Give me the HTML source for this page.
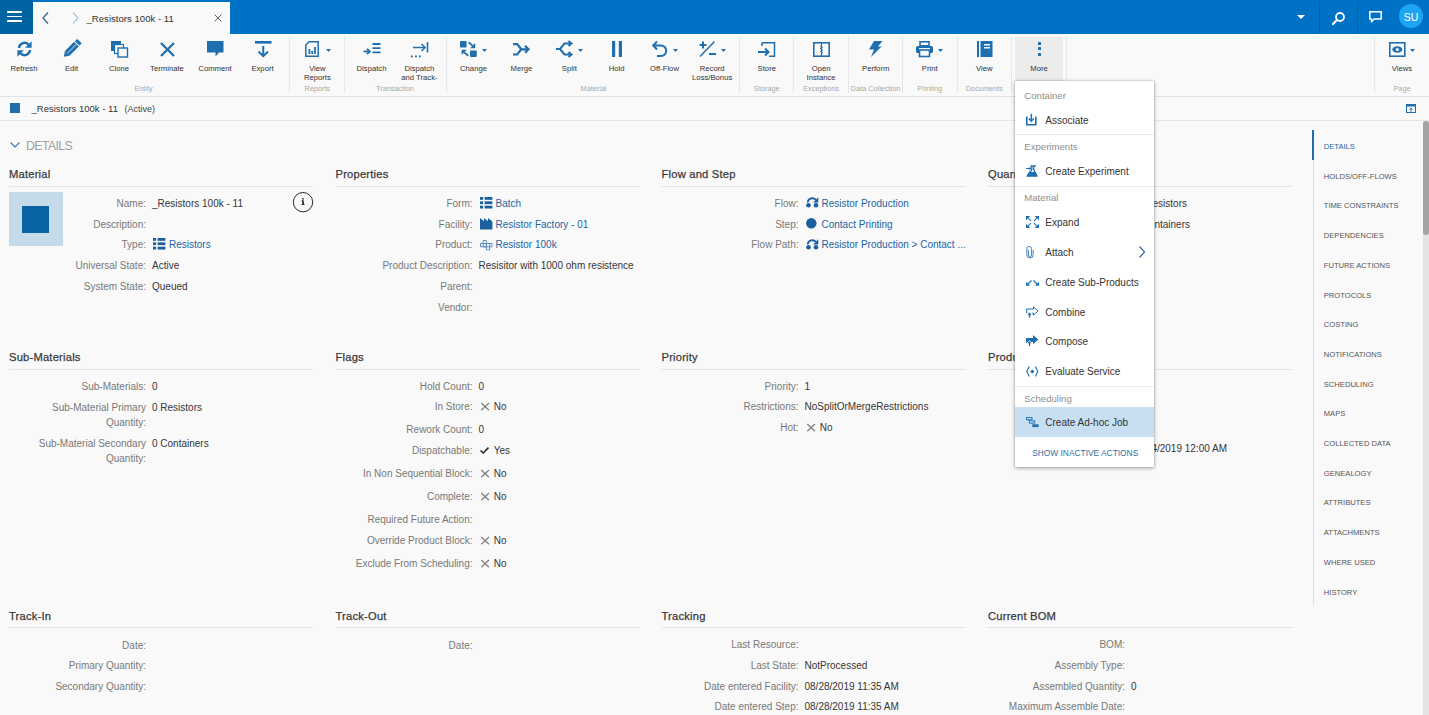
<!DOCTYPE html><html><head><meta charset="utf-8"><style>
html,body{margin:0;padding:0;}
body{width:1429px;height:715px;overflow:hidden;position:relative;background:#f9f9f9;font-family:"Liberation Sans", sans-serif;}
.t{position:absolute;white-space:nowrap;line-height:1;}
svg{overflow:visible}
</style></head><body>
<div style="position:absolute;left:0px;top:0px;width:1429px;height:34px;background:#0072c6;"></div>
<div style="position:absolute;left:0px;top:0px;width:33px;height:34px;background:#0064a2;"></div>
<div style="position:absolute;left:7px;top:11.2px;width:15px;height:1.6px;background:#ffffff;border-radius:0.8px;"></div>
<div style="position:absolute;left:7px;top:15.7px;width:15px;height:1.6px;background:#ffffff;border-radius:0.8px;"></div>
<div style="position:absolute;left:7px;top:20.2px;width:15px;height:1.6px;background:#ffffff;border-radius:0.8px;"></div>
<div style="position:absolute;left:33px;top:2px;width:197px;height:32px;background:#f9f9f9;"></div>
<svg style="position:absolute;left:42px;top:12px" width="7" height="12" viewBox="0 0 7 12"><path d="M6 0.5 L1 6 L6 11.5" fill="none" stroke="#2f5f8f" stroke-width="1.2"/></svg>
<svg style="position:absolute;left:72px;top:12px" width="7" height="12" viewBox="0 0 7 12"><path d="M1 0.5 L6 6 L1 11.5" fill="none" stroke="#a9c6e0" stroke-width="1.2"/></svg>
<div class="t" style="top:13.53px;font-size:9.6px;color:#333;left:86.5px;">_Resistors 100k - 11</div>
<svg style="position:absolute;left:214px;top:14px" width="8" height="8" viewBox="0 0 8 8"><path d="M0.5 0.5 L7.5 7.5 M7.5 0.5 L0.5 7.5" fill="none" stroke="#555" stroke-width="0.95"/></svg>
<svg style="position:absolute;left:1297px;top:15px" width="8" height="4" viewBox="0 0 8 4"><path d="M0 0 L8 0 L4 4 Z" fill="#fff"/></svg>
<div style="position:absolute;left:1318.5px;top:2px;width:0;height:31px;border-left:1px dotted #0a4f86"></div>
<div style="position:absolute;left:1357px;top:2px;width:0;height:31px;border-left:1px dotted #0a4f86"></div>
<svg style="position:absolute;left:1332px;top:12px" width="13" height="12" viewBox="0 0 13 12"><circle cx="8" cy="5" r="4" fill="none" stroke="#fff" stroke-width="1.8"/><path d="M5.2 7.8 L1 12" stroke="#fff" stroke-width="2.2" stroke-linecap="round"/></svg>
<svg style="position:absolute;left:1369px;top:11px" width="13" height="12" viewBox="0 0 13 12"><path d="M0.8 0.8 H12.2 V8 H5 L2.5 10.8 V8 H0.8 Z" fill="none" stroke="#fff" stroke-width="1.5" stroke-linejoin="round"/></svg>
<div style="position:absolute;left:1399px;top:4px;width:24px;height:24px;border-radius:12px;background:#1ea5f2"></div>
<div class="t" style="top:12.19px;font-size:10.5px;color:#fff;left:1399.00px;width:24px;text-align:center;">SU</div>
<div style="position:absolute;left:0px;top:34px;width:1429px;height:62px;background:#f9f9f9;"></div>
<div style="position:absolute;left:0px;top:96px;width:1429px;height:1px;background:#e3e3e3;"></div>
<div style="position:absolute;left:289px;top:37px;width:1px;height:56px;background:#e6e6e6;"></div>
<div style="position:absolute;left:344px;top:37px;width:1px;height:56px;background:#e6e6e6;"></div>
<div style="position:absolute;left:446px;top:37px;width:1px;height:56px;background:#e6e6e6;"></div>
<div style="position:absolute;left:739px;top:37px;width:1px;height:56px;background:#e6e6e6;"></div>
<div style="position:absolute;left:793px;top:37px;width:1px;height:56px;background:#e6e6e6;"></div>
<div style="position:absolute;left:848px;top:37px;width:1px;height:56px;background:#e6e6e6;"></div>
<div style="position:absolute;left:902px;top:37px;width:1px;height:56px;background:#e6e6e6;"></div>
<div style="position:absolute;left:957px;top:37px;width:1px;height:56px;background:#e6e6e6;"></div>
<div style="position:absolute;left:1011px;top:37px;width:1px;height:56px;background:#e6e6e6;"></div>
<div style="position:absolute;left:1066px;top:37px;width:1px;height:56px;background:#e6e6e6;"></div>
<div style="position:absolute;left:1374px;top:37px;width:1px;height:56px;background:#e6e6e6;"></div>
<div style="position:absolute;left:1015px;top:37px;width:48px;height:44px;background:#ececec;"></div>
<div class="t" style="top:64.89px;font-size:7.7px;color:#333;left:-6.00px;width:60px;text-align:center;">Refresh</div>
<div class="t" style="top:64.89px;font-size:7.7px;color:#333;left:41.50px;width:60px;text-align:center;">Edit</div>
<div class="t" style="top:64.89px;font-size:7.7px;color:#333;left:89.00px;width:60px;text-align:center;">Clone</div>
<div class="t" style="top:64.89px;font-size:7.7px;color:#333;left:137.00px;width:60px;text-align:center;">Terminate</div>
<div class="t" style="top:64.89px;font-size:7.7px;color:#333;left:185.00px;width:60px;text-align:center;">Comment</div>
<div class="t" style="top:64.89px;font-size:7.7px;color:#333;left:232.50px;width:60px;text-align:center;">Export</div>
<div class="t" style="top:85.21px;font-size:7.3px;color:#a8a8a8;left:103.50px;width:80px;text-align:center;">Entity</div>
<div class="t" style="top:64.89px;font-size:7.7px;color:#333;left:287.40px;width:60px;text-align:center;">View</div>
<div class="t" style="top:73.69px;font-size:7.7px;color:#333;left:287.40px;width:60px;text-align:center;">Reports</div>
<div class="t" style="top:85.21px;font-size:7.3px;color:#a8a8a8;left:277.40px;width:80px;text-align:center;">Reports</div>
<div class="t" style="top:64.89px;font-size:7.7px;color:#333;left:341.50px;width:60px;text-align:center;">Dispatch</div>
<div class="t" style="top:64.89px;font-size:7.7px;color:#333;left:389.40px;width:60px;text-align:center;">Dispatch</div>
<div class="t" style="top:73.69px;font-size:7.7px;color:#333;left:389.40px;width:60px;text-align:center;">and Track-</div>
<div class="t" style="top:85.21px;font-size:7.3px;color:#a8a8a8;left:355.00px;width:80px;text-align:center;">Transaction</div>
<div class="t" style="top:64.89px;font-size:7.7px;color:#333;left:443.50px;width:60px;text-align:center;">Change</div>
<div class="t" style="top:64.89px;font-size:7.7px;color:#333;left:491.40px;width:60px;text-align:center;">Merge</div>
<div class="t" style="top:64.89px;font-size:7.7px;color:#333;left:539.30px;width:60px;text-align:center;">Split</div>
<div class="t" style="top:64.89px;font-size:7.7px;color:#333;left:586.60px;width:60px;text-align:center;">Hold</div>
<div class="t" style="top:64.89px;font-size:7.7px;color:#333;left:634.50px;width:60px;text-align:center;">Off-Flow</div>
<div class="t" style="top:64.89px;font-size:7.7px;color:#333;left:682.20px;width:60px;text-align:center;">Record</div>
<div class="t" style="top:73.69px;font-size:7.7px;color:#333;left:682.20px;width:60px;text-align:center;">Loss/Bonus</div>
<div class="t" style="top:85.21px;font-size:7.3px;color:#a8a8a8;left:553.60px;width:80px;text-align:center;">Material</div>
<div class="t" style="top:64.89px;font-size:7.7px;color:#333;left:736.80px;width:60px;text-align:center;">Store</div>
<div class="t" style="top:85.21px;font-size:7.3px;color:#a8a8a8;left:726.80px;width:80px;text-align:center;">Storage</div>
<div class="t" style="top:64.89px;font-size:7.7px;color:#333;left:791.10px;width:60px;text-align:center;">Open</div>
<div class="t" style="top:73.69px;font-size:7.7px;color:#333;left:791.10px;width:60px;text-align:center;">Instance</div>
<div class="t" style="top:85.21px;font-size:7.3px;color:#a8a8a8;left:781.10px;width:80px;text-align:center;">Exceptions</div>
<div class="t" style="top:64.89px;font-size:7.7px;color:#333;left:845.70px;width:60px;text-align:center;">Perform</div>
<div class="t" style="top:85.21px;font-size:7.3px;color:#a8a8a8;left:835.60px;width:80px;text-align:center;">Data Collection</div>
<div class="t" style="top:64.89px;font-size:7.7px;color:#333;left:899.70px;width:60px;text-align:center;">Print</div>
<div class="t" style="top:85.21px;font-size:7.3px;color:#a8a8a8;left:889.70px;width:80px;text-align:center;">Printing</div>
<div class="t" style="top:64.89px;font-size:7.7px;color:#333;left:954.30px;width:60px;text-align:center;">View</div>
<div class="t" style="top:85.21px;font-size:7.3px;color:#a8a8a8;left:944.30px;width:80px;text-align:center;">Documents</div>
<div class="t" style="top:64.89px;font-size:7.7px;color:#333;left:1009.00px;width:60px;text-align:center;">More</div>
<div class="t" style="top:64.89px;font-size:7.7px;color:#333;left:1372.00px;width:60px;text-align:center;">Views</div>
<div class="t" style="top:85.21px;font-size:7.3px;color:#a8a8a8;left:1362.00px;width:80px;text-align:center;">Page</div>
<svg style="position:absolute;left:16.5px;top:40.8px" width="15" height="16" viewBox="0 0 15 16"><path d="M2 7 A5.6 5.6 0 0 1 11.6 3.6" fill="none" stroke="#1f6fae" stroke-width="2.4"/><path d="M14.6 0.3 V6.8 H8.1 Z" fill="#1f6fae"/><path d="M13 9 A5.6 5.6 0 0 1 3.4 12.4" fill="none" stroke="#1f6fae" stroke-width="2.4"/><path d="M0.4 15.7 V9.2 H6.9 Z" fill="#1f6fae"/></svg>
<svg style="position:absolute;left:63px;top:41px" width="17" height="16" viewBox="0 0 17 16"><g transform="translate(8.6 8) scale(1.12) rotate(-45) translate(-8.5 -8)"><rect x="3" y="5.1" width="11.6" height="5.8" fill="#1f6fae"/><path d="M3 5.1 L-1.3 8 L3 10.9 Z" fill="#1f6fae"/><rect x="15.5" y="5.1" width="3" height="5.8" rx="0.8" fill="#1f6fae"/><path d="M3.5 8 H14" stroke="#f9f9f9" stroke-width="0.7"/></g></svg>
<svg style="position:absolute;left:111px;top:41px" width="17" height="16" viewBox="0 0 17 16"><rect x="0" y="0" width="10" height="10" fill="#1f6fae"/><rect x="3.5" y="3.5" width="9" height="9" fill="#f9f9f9" stroke="#1f6fae" stroke-width="1.2"/><rect x="7" y="7" width="9.5" height="9" fill="#f9f9f9" stroke="#1f6fae" stroke-width="1.4"/></svg>
<svg style="position:absolute;left:159.5px;top:41.5px" width="15" height="15" viewBox="0 0 15 15"><path d="M1 1 L14 14 M14 1 L1 14" stroke="#1f6fae" stroke-width="2.3"/></svg>
<svg style="position:absolute;left:206.5px;top:41px" width="17" height="16" viewBox="0 0 17 16"><path d="M0 0 H16.5 V11.6 H12 L8.5 15.6 V11.6 H0 Z" fill="#1f6fae"/></svg>
<svg style="position:absolute;left:254.5px;top:41px" width="17" height="16" viewBox="0 0 17 16"><rect x="0" y="0" width="16.5" height="2.6" fill="#1f6fae"/><path d="M8.25 5 V15" stroke="#1f6fae" stroke-width="2"/><path d="M3.5 10.5 L8.25 15.2 L13 10.5" fill="none" stroke="#1f6fae" stroke-width="2"/></svg>
<svg style="position:absolute;left:305px;top:41px" width="14" height="16" viewBox="0 0 14 16"><path d="M4 0.8 H13.2 V15.2 H0.8 V4 Z" fill="none" stroke="#1f6fae" stroke-width="1.5"/><rect x="3.5" y="8" width="1.8" height="5" fill="#1f6fae"/><rect x="6.3" y="10" width="1.8" height="3" fill="#1f6fae"/><rect x="9.1" y="6" width="1.8" height="7" fill="#1f6fae"/></svg>
<svg style="position:absolute;left:325.5px;top:48.6px" width="5" height="3" viewBox="0 0 5 3"><path d="M0 0 H5 L2.5 3 Z" fill="#1f6fae"/></svg>
<svg style="position:absolute;left:362.5px;top:43px" width="18" height="12" viewBox="0 0 18 12"><path d="M0.5 8.5 H6" stroke="#1f6fae" stroke-width="1.8"/><path d="M4 5.8 L6.8 8.5 L4 11.2" fill="none" stroke="#1f6fae" stroke-width="1.8"/><path d="M9.5 1 H17.5 M9.5 5.2 H17.5 M9.5 9.4 H17.5" stroke="#1f6fae" stroke-width="1.8"/></svg>
<svg style="position:absolute;left:410.5px;top:41.5px" width="18" height="16" viewBox="0 0 18 16"><path d="M2 5.5 H14" stroke="#1f6fae" stroke-width="1.5"/><path d="M10.5 2 L14 5.5 L10.5 9" fill="none" stroke="#1f6fae" stroke-width="1.5"/><path d="M16.5 0 V10.5" stroke="#1f6fae" stroke-width="1.6"/><rect x="0" y="13.5" width="1.8" height="1.8" fill="#1f6fae"/><rect x="4" y="13.5" width="1.8" height="1.8" fill="#1f6fae"/><rect x="8" y="13.5" width="1.8" height="1.8" fill="#1f6fae"/></svg>
<svg style="position:absolute;left:460px;top:41px" width="17" height="16" viewBox="0 0 17 16"><rect x="0" y="0" width="6.6" height="6.6" rx="0.9" fill="#1f6fae"/><rect x="10" y="9.4" width="6.8" height="6.6" rx="0.9" fill="#1f6fae"/><path d="M8.6 1.2 L12.5 4.6" stroke="#1f6fae" stroke-width="1.9"/><path d="M15.2 2 V7.2 H10 Z" fill="#1f6fae"/><path d="M8.2 14.8 L4.3 11.4" stroke="#1f6fae" stroke-width="1.9"/><path d="M1.6 14 V8.8 H6.8 Z" fill="#1f6fae"/></svg>
<svg style="position:absolute;left:482.3px;top:48.6px" width="5" height="3" viewBox="0 0 5 3"><path d="M0 0 H5 L2.5 3 Z" fill="#1f6fae"/></svg>
<svg style="position:absolute;left:513px;top:42.8px" width="17" height="13" viewBox="0 0 17 13"><path d="M0 1.1 H4.2 L8.3 6.3 H15 M0 11.5 H4.2 L8.3 6.3" fill="none" stroke="#1f6fae" stroke-width="2.2"/><path d="M12 2.9 L15.5 6.3 L12 9.7" fill="none" stroke="#1f6fae" stroke-width="2.2"/></svg>
<svg style="position:absolute;left:555.5px;top:41px" width="17" height="16" viewBox="0 0 17 16"><path d="M0 8 H4 L8.5 2.5 H15 M4 8 L8.5 13.5 H15" fill="none" stroke="#1f6fae" stroke-width="2"/><path d="M12.5 0 L15.5 2.5 L12.5 5 M12.5 11 L15.5 13.5 L12.5 16" fill="none" stroke="#1f6fae" stroke-width="2"/></svg>
<svg style="position:absolute;left:578px;top:48.6px" width="5" height="3" viewBox="0 0 5 3"><path d="M0 0 H5 L2.5 3 Z" fill="#1f6fae"/></svg>
<svg style="position:absolute;left:611.8px;top:41px" width="11" height="16" viewBox="0 0 11 16"><rect x="0" y="0" width="3.2" height="16" fill="#1f6fae"/><rect x="6.8" y="0" width="3.2" height="16" fill="#1f6fae"/></svg>
<svg style="position:absolute;left:651.5px;top:41px" width="16" height="16" viewBox="0 0 16 16"><path d="M1.5 4.5 H9 A5.2 5.2 0 0 1 9 15 H5" fill="none" stroke="#1f6fae" stroke-width="2"/><path d="M5 0.5 L1.2 4.5 L5 8.5" fill="none" stroke="#1f6fae" stroke-width="2"/></svg>
<svg style="position:absolute;left:673.3px;top:48.6px" width="5" height="3" viewBox="0 0 5 3"><path d="M0 0 H5 L2.5 3 Z" fill="#1f6fae"/></svg>
<svg style="position:absolute;left:698.5px;top:41px" width="18" height="16" viewBox="0 0 18 16"><path d="M4 0.5 V7.5 M0.5 4 H7.5" stroke="#1f6fae" stroke-width="2"/><path d="M1 15.5 L15.5 0.5" stroke="#1f6fae" stroke-width="1.5"/><path d="M10 13 H17" stroke="#1f6fae" stroke-width="2"/></svg>
<svg style="position:absolute;left:721.2px;top:48.6px" width="5" height="3" viewBox="0 0 5 3"><path d="M0 0 H5 L2.5 3 Z" fill="#1f6fae"/></svg>
<svg style="position:absolute;left:758px;top:41.5px" width="18" height="15" viewBox="0 0 18 15"><path d="M4 0.8 H16.5 V14.2 H11" fill="none" stroke="#1f6fae" stroke-width="1.5"/><path d="M0 10 H10" stroke="#1f6fae" stroke-width="2"/><path d="M7 6.5 L10.5 10 L7 13.5" fill="none" stroke="#1f6fae" stroke-width="2"/><path d="M4 0.8 V4" stroke="#1f6fae" stroke-width="1.5"/></svg>
<svg style="position:absolute;left:813px;top:41.5px" width="17" height="15" viewBox="0 0 17 15"><rect x="0.8" y="0.8" width="15.4" height="13.4" fill="none" stroke="#1f6fae" stroke-width="1.6"/><path d="M8.5 1 V14" stroke="#1f6fae" stroke-width="1.2"/><path d="M7 4 L9.5 5.5 L7 7 M10 8 L7.5 9.5 L10 11" fill="none" stroke="#1f6fae" stroke-width="1"/></svg>
<svg style="position:absolute;left:868px;top:41px" width="15" height="16" viewBox="0 0 15 16"><path d="M6 0 H14.5 L10 5.5 H13.5 L3 16 L6 8.5 H1 Z" fill="#1f6fae"/></svg>
<svg style="position:absolute;left:916px;top:41px" width="17" height="16" viewBox="0 0 17 16"><rect x="4" y="0.8" width="9" height="4" fill="none" stroke="#1f6fae" stroke-width="1.6"/><rect x="0" y="5" width="17" height="7" rx="1.5" fill="#1f6fae"/><rect x="3.5" y="9" width="10" height="6.5" fill="#f9f9f9" stroke="#1f6fae" stroke-width="1.6"/><rect x="3" y="7" width="11" height="1.2" fill="#f9f9f9"/></svg>
<svg style="position:absolute;left:938.2px;top:48.6px" width="5" height="3" viewBox="0 0 5 3"><path d="M0 0 H5 L2.5 3 Z" fill="#1f6fae"/></svg>
<svg style="position:absolute;left:976.5px;top:41px" width="16" height="16" viewBox="0 0 16 16"><rect x="0" y="0" width="2" height="16" fill="#1f6fae"/><rect x="3.5" y="0" width="12" height="16" fill="#1f6fae"/><rect x="7" y="3" width="6" height="1.5" fill="#f9f9f9"/><rect x="7" y="6" width="6" height="1.5" fill="#f9f9f9"/></svg>
<div style="position:absolute;left:1037.6px;top:41.5px;width:3px;height:3px;background:#1f6fae;border-radius:0.6px;"></div>
<div style="position:absolute;left:1037.6px;top:47.3px;width:3px;height:3px;background:#1f6fae;border-radius:0.6px;"></div>
<div style="position:absolute;left:1037.6px;top:53.1px;width:3px;height:3px;background:#1f6fae;border-radius:0.6px;"></div>
<svg style="position:absolute;left:1388.5px;top:41.5px" width="17" height="15" viewBox="0 0 17 15"><rect x="0.8" y="0.8" width="15" height="13.4" fill="none" stroke="#1f6fae" stroke-width="1.6"/><ellipse cx="8.3" cy="7.5" rx="5" ry="3.2" fill="#1f6fae"/><circle cx="8.3" cy="7.5" r="1.6" fill="#f9f9f9"/></svg>
<svg style="position:absolute;left:1410px;top:48.6px" width="5" height="3" viewBox="0 0 5 3"><path d="M0 0 H5 L2.5 3 Z" fill="#1f6fae"/></svg>
<div style="position:absolute;left:10px;top:103px;width:10px;height:10px;background:#1f6fae;"></div>
<div class="t" style="top:104.41px;font-size:9.5px;color:#333;left:31.5px;">_Resistors 100k - 11</div>
<div class="t" style="top:104.82px;font-size:9.0px;color:#444;left:124.5px;">(Active)</div>
<div style="position:absolute;left:0px;top:120px;width:1310px;height:1px;background:#e6e6e6;"></div>
<div style="position:absolute;left:1310px;top:120px;width:119px;height:1px;background:#e6e6e6;"></div>
<svg style="position:absolute;left:1406px;top:104px" width="10" height="9" viewBox="0 0 10 9"><rect x="0.5" y="0.5" width="9" height="8" fill="none" stroke="#1f6fae" stroke-width="1"/><rect x="0.5" y="0.5" width="9" height="2" fill="#1f6fae"/><path d="M5 4 V8 M3.3 5.6 L5 4 L6.7 5.6" fill="none" stroke="#1f6fae" stroke-width="0.9"/></svg>
<svg style="position:absolute;left:10px;top:142px" width="10" height="6" viewBox="0 0 10 6"><path d="M0.5 0.5 L5 5 L9.5 0.5" fill="none" stroke="#3a78b0" stroke-width="1.1"/></svg>
<div class="t" style="top:139.71px;font-size:12.3px;color:#a0a0a0;letter-spacing:-0.6px;left:26.0px;">DETAILS</div>
<div class="t" style="top:169.12px;font-size:11.2px;color:#3a3a3a;letter-spacing:0.2px;left:9px;-webkit-text-stroke:0.25px #3a3a3a;">Material</div>
<div style="position:absolute;left:9px;top:186px;width:304px;height:1px;background:#e4e4e4;"></div>
<div style="position:absolute;left:9px;top:192px;width:54px;height:54px;background:#c6dbea;"></div>
<div style="position:absolute;left:22px;top:206px;width:27px;height:27px;background:#0a64a4;"></div>
<div class="t" style="top:198.80px;font-size:10px;color:#787878;right:1283px;text-align:right;">Name:</div>
<div class="t" style="top:198.80px;font-size:10px;color:#363636;left:152px;">_Resistors 100k - 11</div>
<svg style="position:absolute;left:293px;top:192.2px" width="20" height="21" viewBox="0 0 20 21"><circle cx="10" cy="10.2" r="9.7" fill="none" stroke="#2a2a2a" stroke-width="1"/><rect x="9.2" y="8.4" width="1.6" height="4" fill="#1a1a1a"/><rect x="8.5" y="8.4" width="1.3" height="0.7" fill="#1a1a1a"/><circle cx="10" cy="6.8" r="0.85" fill="#1a1a1a"/><rect x="8.5" y="12.2" width="3" height="0.8" fill="#1a1a1a"/></svg>
<div class="t" style="top:219.80px;font-size:10px;color:#787878;right:1283px;text-align:right;">Description:</div>
<div class="t" style="top:240.30px;font-size:10px;color:#787878;right:1283px;text-align:right;">Type:</div>
<svg style="position:absolute;left:153.3px;top:238.3px" width="13" height="13" viewBox="0 0 13 13"><rect x="0" y="0.00" width="3.1" height="2.8" fill="#1b5f9e"/><rect x="4.6" y="0.00" width="7.8" height="2.8" fill="#1b5f9e"/><rect x="0" y="4.35" width="3.1" height="2.8" fill="#1b5f9e"/><rect x="4.6" y="4.35" width="7.8" height="2.8" fill="#1b5f9e"/><rect x="0" y="8.70" width="3.1" height="2.8" fill="#1b5f9e"/><rect x="4.6" y="8.70" width="7.8" height="2.8" fill="#1b5f9e"/></svg>
<div class="t" style="top:240.30px;font-size:10px;color:#1d64a0;left:169px;">Resistors</div>
<div class="t" style="top:261.00px;font-size:10px;color:#787878;right:1283px;text-align:right;">Universal State:</div>
<div class="t" style="top:261.00px;font-size:10px;color:#363636;left:152px;">Active</div>
<div class="t" style="top:281.80px;font-size:10px;color:#787878;right:1283px;text-align:right;">System State:</div>
<div class="t" style="top:281.80px;font-size:10px;color:#363636;left:152px;">Queued</div>
<div class="t" style="top:169.12px;font-size:11.2px;color:#3a3a3a;letter-spacing:0.2px;left:335.5px;-webkit-text-stroke:0.25px #3a3a3a;">Properties</div>
<div style="position:absolute;left:335.5px;top:186px;width:304px;height:1px;background:#e4e4e4;"></div>
<div class="t" style="top:198.80px;font-size:10px;color:#787878;right:956.5px;text-align:right;">Form:</div>
<svg style="position:absolute;left:479.8px;top:196.8px" width="13" height="13" viewBox="0 0 13 13"><rect x="0" y="0.00" width="3.1" height="2.8" fill="#1b5f9e"/><rect x="4.6" y="0.00" width="7.8" height="2.8" fill="#1b5f9e"/><rect x="0" y="4.35" width="3.1" height="2.8" fill="#1b5f9e"/><rect x="4.6" y="4.35" width="7.8" height="2.8" fill="#1b5f9e"/><rect x="0" y="8.70" width="3.1" height="2.8" fill="#1b5f9e"/><rect x="4.6" y="8.70" width="7.8" height="2.8" fill="#1b5f9e"/></svg>
<div class="t" style="top:198.80px;font-size:10px;color:#1d64a0;left:495.5px;">Batch</div>
<div class="t" style="top:219.60px;font-size:10px;color:#787878;right:956.5px;text-align:right;">Facility:</div>
<svg style="position:absolute;left:479.8px;top:218.20000000000002px" width="13" height="12" viewBox="0 0 13 12"><path d="M0 11.4 V0 L4 3.2 V0 L8 3.2 V0 L12.4 3.5 V11.4 Z" fill="#1b5f9e"/></svg>
<div class="t" style="top:219.60px;font-size:10px;color:#1d64a0;left:495.5px;">Resistor Factory - 01</div>
<div class="t" style="top:240.00px;font-size:10px;color:#787878;right:956.5px;text-align:right;">Product:</div>
<svg style="position:absolute;left:479.8px;top:239.79999999999998px" width="13" height="11" viewBox="0 0 13 11"><path d="M0.5 3.5 H12 V6.8 H0.5 Z" fill="none" stroke="#4f86bd" stroke-width="0.9"/><path d="M3.2 0.5 H6.4 V6.8 H3.2 Z M6.4 3.5 H9.6 V9.8 H6.4 Z" fill="none" stroke="#4f86bd" stroke-width="0.9"/></svg>
<div class="t" style="top:240.00px;font-size:10px;color:#1d64a0;left:495.5px;">Resistor 100k</div>
<div class="t" style="top:260.80px;font-size:10px;color:#787878;right:956.5px;text-align:right;">Product Description:</div>
<div class="t" style="top:260.80px;font-size:10px;color:#363636;left:478.5px;">Resisitor with 1000 ohm resistence</div>
<div class="t" style="top:281.80px;font-size:10px;color:#787878;right:956.5px;text-align:right;">Parent:</div>
<div class="t" style="top:302.60px;font-size:10px;color:#787878;right:956.5px;text-align:right;">Vendor:</div>
<div class="t" style="top:169.12px;font-size:11.2px;color:#3a3a3a;letter-spacing:0.2px;left:661.5px;-webkit-text-stroke:0.25px #3a3a3a;">Flow and Step</div>
<div style="position:absolute;left:661.5px;top:186px;width:304px;height:1px;background:#e4e4e4;"></div>
<div class="t" style="top:198.80px;font-size:10px;color:#787878;right:630.5px;text-align:right;">Flow:</div>
<svg style="position:absolute;left:805.8px;top:197.4px" width="13" height="11" viewBox="0 0 13 11"><circle cx="2.5" cy="8.2" r="2.3" fill="#1b5f9e"/><circle cx="10" cy="8.2" r="2.3" fill="#1b5f9e"/><path d="M1.5 5.4 C2.5 1.2 7 0 10 2.8" fill="none" stroke="#1b5f9e" stroke-width="1.8"/><path d="M12.3 0.2 V5.4 H7.1 Z" fill="#1b5f9e"/></svg>
<div class="t" style="top:198.80px;font-size:10px;color:#1d64a0;left:821.5px;">Resistor Production</div>
<div class="t" style="top:219.60px;font-size:10px;color:#787878;right:630.5px;text-align:right;">Step:</div>
<svg style="position:absolute;left:805.8px;top:218.20000000000002px" width="12" height="12" viewBox="0 0 12 12"><circle cx="5.3" cy="5.2" r="5.2" fill="#1b5f9e"/></svg>
<div class="t" style="top:219.60px;font-size:10px;color:#1d64a0;left:821.5px;">Contact Printing</div>
<div class="t" style="top:240.30px;font-size:10px;color:#787878;right:630.5px;text-align:right;">Flow Path:</div>
<svg style="position:absolute;left:805.8px;top:238.9px" width="13" height="11" viewBox="0 0 13 11"><circle cx="2.5" cy="8.2" r="2.3" fill="#1b5f9e"/><circle cx="10" cy="8.2" r="2.3" fill="#1b5f9e"/><path d="M1.5 5.4 C2.5 1.2 7 0 10 2.8" fill="none" stroke="#1b5f9e" stroke-width="1.8"/><path d="M12.3 0.2 V5.4 H7.1 Z" fill="#1b5f9e"/></svg>
<div class="t" style="top:240.30px;font-size:10px;color:#1d64a0;left:821.5px;">Resistor Production &gt; Contact ...</div>
<div class="t" style="top:169.12px;font-size:11.2px;color:#3a3a3a;letter-spacing:0.2px;left:988px;-webkit-text-stroke:0.25px #3a3a3a;">Quantities</div>
<div style="position:absolute;left:988px;top:186px;width:304px;height:1px;background:#e4e4e4;"></div>
<div class="t" style="top:198.80px;font-size:10px;color:#787878;right:304px;text-align:right;">Primary Quantity:</div>
<div class="t" style="top:219.60px;font-size:10px;color:#787878;right:304px;text-align:right;">Secondary Quantity:</div>
<div class="t" style="top:198.80px;font-size:10px;color:#363636;right:242px;text-align:right;">100 Resistors</div>
<div class="t" style="top:219.60px;font-size:10px;color:#363636;right:239px;text-align:right;">1 Containers</div>
<div class="t" style="top:352.22px;font-size:11.2px;color:#3a3a3a;letter-spacing:0.2px;left:9px;-webkit-text-stroke:0.25px #3a3a3a;">Sub-Materials</div>
<div style="position:absolute;left:9px;top:368.5px;width:304px;height:1px;background:#e4e4e4;"></div>
<div class="t" style="top:382.10px;font-size:10px;color:#787878;right:1283px;text-align:right;">Sub-Materials:</div>
<div class="t" style="top:382.10px;font-size:10px;color:#363636;left:152px;">0</div>
<div class="t" style="top:403.00px;font-size:10px;color:#787878;right:1283px;text-align:right;">Sub-Material Primary</div>
<div class="t" style="top:418.00px;font-size:10px;color:#787878;right:1283px;text-align:right;">Quantity:</div>
<div class="t" style="top:403.00px;font-size:10px;color:#363636;left:152px;">0 Resistors</div>
<div class="t" style="top:438.60px;font-size:10px;color:#787878;right:1283px;text-align:right;">Sub-Material Secondary</div>
<div class="t" style="top:453.60px;font-size:10px;color:#787878;right:1283px;text-align:right;">Quantity:</div>
<div class="t" style="top:438.60px;font-size:10px;color:#363636;left:152px;">0 Containers</div>
<div class="t" style="top:352.22px;font-size:11.2px;color:#3a3a3a;letter-spacing:0.2px;left:335.5px;-webkit-text-stroke:0.25px #3a3a3a;">Flags</div>
<div style="position:absolute;left:335.5px;top:368.5px;width:304px;height:1px;background:#e4e4e4;"></div>
<div class="t" style="top:381.60px;font-size:10px;color:#787878;right:956.5px;text-align:right;">Hold Count:</div>
<div class="t" style="top:381.60px;font-size:10px;color:#363636;left:478.5px;">0</div>
<div class="t" style="top:402.30px;font-size:10px;color:#787878;right:956.5px;text-align:right;">In Store:</div>
<svg style="position:absolute;left:480.5px;top:403.3px" width="9" height="8" viewBox="0 0 9 8"><path d="M0.3 0 L8 7.3 M8 0 L0.3 7.3" stroke="#808080" stroke-width="1.25"/></svg>
<div class="t" style="top:402.30px;font-size:10px;color:#363636;left:493.7px;">No</div>
<div class="t" style="top:424.80px;font-size:10px;color:#787878;right:956.5px;text-align:right;">Rework Count:</div>
<div class="t" style="top:424.80px;font-size:10px;color:#363636;left:478.5px;">0</div>
<div class="t" style="top:445.80px;font-size:10px;color:#787878;right:956.5px;text-align:right;">Dispatchable:</div>
<svg style="position:absolute;left:480.0px;top:447px" width="9" height="7" viewBox="0 0 9 7"><path d="M0.5 3.5 L3.2 6 L8.5 0.6" fill="none" stroke="#2b2b2b" stroke-width="1.6"/></svg>
<div class="t" style="top:445.80px;font-size:10px;color:#363636;left:493.7px;">Yes</div>
<div class="t" style="top:468.80px;font-size:10px;color:#787878;right:956.5px;text-align:right;">In Non Sequential Block:</div>
<svg style="position:absolute;left:480.5px;top:469.8px" width="9" height="8" viewBox="0 0 9 8"><path d="M0.3 0 L8 7.3 M8 0 L0.3 7.3" stroke="#808080" stroke-width="1.25"/></svg>
<div class="t" style="top:468.80px;font-size:10px;color:#363636;left:493.7px;">No</div>
<div class="t" style="top:492.00px;font-size:10px;color:#787878;right:956.5px;text-align:right;">Complete:</div>
<svg style="position:absolute;left:480.5px;top:493.0px" width="9" height="8" viewBox="0 0 9 8"><path d="M0.3 0 L8 7.3 M8 0 L0.3 7.3" stroke="#808080" stroke-width="1.25"/></svg>
<div class="t" style="top:492.00px;font-size:10px;color:#363636;left:493.7px;">No</div>
<div class="t" style="top:514.80px;font-size:10px;color:#787878;right:956.5px;text-align:right;">Required Future Action:</div>
<div class="t" style="top:535.80px;font-size:10px;color:#787878;right:956.5px;text-align:right;">Override Product Block:</div>
<svg style="position:absolute;left:480.5px;top:536.8px" width="9" height="8" viewBox="0 0 9 8"><path d="M0.3 0 L8 7.3 M8 0 L0.3 7.3" stroke="#808080" stroke-width="1.25"/></svg>
<div class="t" style="top:535.80px;font-size:10px;color:#363636;left:493.7px;">No</div>
<div class="t" style="top:559.10px;font-size:10px;color:#787878;right:956.5px;text-align:right;">Exclude From Scheduling:</div>
<svg style="position:absolute;left:480.5px;top:560.0999999999999px" width="9" height="8" viewBox="0 0 9 8"><path d="M0.3 0 L8 7.3 M8 0 L0.3 7.3" stroke="#808080" stroke-width="1.25"/></svg>
<div class="t" style="top:559.10px;font-size:10px;color:#363636;left:493.7px;">No</div>
<div class="t" style="top:352.22px;font-size:11.2px;color:#3a3a3a;letter-spacing:0.2px;left:661.5px;-webkit-text-stroke:0.25px #3a3a3a;">Priority</div>
<div style="position:absolute;left:661.5px;top:368.5px;width:304px;height:1px;background:#e4e4e4;"></div>
<div class="t" style="top:382.10px;font-size:10px;color:#787878;right:630.5px;text-align:right;">Priority:</div>
<div class="t" style="top:382.10px;font-size:10px;color:#363636;left:804.5px;">1</div>
<div class="t" style="top:402.30px;font-size:10px;color:#787878;right:630.5px;text-align:right;">Restrictions:</div>
<div class="t" style="top:402.30px;font-size:10px;color:#363636;left:804.5px;">NoSplitOrMergeRestrictions</div>
<div class="t" style="top:423.10px;font-size:10px;color:#787878;right:630.5px;text-align:right;">Hot:</div>
<svg style="position:absolute;left:806.5px;top:424.1px" width="9" height="8" viewBox="0 0 9 8"><path d="M0.3 0 L8 7.3 M8 0 L0.3 7.3" stroke="#808080" stroke-width="1.25"/></svg>
<div class="t" style="top:423.10px;font-size:10px;color:#363636;left:819.7px;">No</div>
<div class="t" style="top:352.22px;font-size:11.2px;color:#3a3a3a;letter-spacing:0.2px;left:988px;-webkit-text-stroke:0.25px #3a3a3a;">Production Order</div>
<div style="position:absolute;left:988px;top:368.5px;width:304px;height:1px;background:#e4e4e4;"></div>
<div class="t" style="top:444.30px;font-size:10px;color:#787878;right:304px;text-align:right;">Due Date:</div>
<div class="t" style="top:444.30px;font-size:10px;color:#363636;right:202px;text-align:right;">09/04/2019 12:00 AM</div>
<div class="t" style="top:611.02px;font-size:11.2px;color:#3a3a3a;letter-spacing:0.2px;left:9px;-webkit-text-stroke:0.25px #3a3a3a;">Track-In</div>
<div style="position:absolute;left:9px;top:627px;width:304px;height:1px;background:#e4e4e4;"></div>
<div class="t" style="top:640.80px;font-size:10px;color:#787878;right:1283px;text-align:right;">Date:</div>
<div class="t" style="top:661.30px;font-size:10px;color:#787878;right:1283px;text-align:right;">Primary Quantity:</div>
<div class="t" style="top:682.20px;font-size:10px;color:#787878;right:1283px;text-align:right;">Secondary Quantity:</div>
<div class="t" style="top:611.02px;font-size:11.2px;color:#3a3a3a;letter-spacing:0.2px;left:335.5px;-webkit-text-stroke:0.25px #3a3a3a;">Track-Out</div>
<div style="position:absolute;left:335.5px;top:627px;width:304px;height:1px;background:#e4e4e4;"></div>
<div class="t" style="top:640.80px;font-size:10px;color:#787878;right:956.5px;text-align:right;">Date:</div>
<div class="t" style="top:611.02px;font-size:11.2px;color:#3a3a3a;letter-spacing:0.2px;left:661.5px;-webkit-text-stroke:0.25px #3a3a3a;">Tracking</div>
<div style="position:absolute;left:661.5px;top:627px;width:304px;height:1px;background:#e4e4e4;"></div>
<div class="t" style="top:640.40px;font-size:10px;color:#787878;right:630.5px;text-align:right;">Last Resource:</div>
<div class="t" style="top:661.10px;font-size:10px;color:#787878;right:630.5px;text-align:right;">Last State:</div>
<div class="t" style="top:661.10px;font-size:10px;color:#363636;left:804.5px;">NotProcessed</div>
<div class="t" style="top:681.80px;font-size:10px;color:#787878;right:630.5px;text-align:right;">Date entered Facility:</div>
<div class="t" style="top:681.80px;font-size:10px;color:#363636;left:804.5px;">08/28/2019 11:35 AM</div>
<div class="t" style="top:702.30px;font-size:10px;color:#787878;right:630.5px;text-align:right;">Date entered Step:</div>
<div class="t" style="top:702.30px;font-size:10px;color:#363636;left:804.5px;">08/28/2019 11:35 AM</div>
<div class="t" style="top:611.02px;font-size:11.2px;color:#3a3a3a;letter-spacing:0.2px;left:988px;-webkit-text-stroke:0.25px #3a3a3a;">Current BOM</div>
<div style="position:absolute;left:988px;top:627px;width:304px;height:1px;background:#e4e4e4;"></div>
<div class="t" style="top:640.40px;font-size:10px;color:#787878;right:304px;text-align:right;">BOM:</div>
<div class="t" style="top:661.10px;font-size:10px;color:#787878;right:304px;text-align:right;">Assembly Type:</div>
<div class="t" style="top:681.80px;font-size:10px;color:#787878;right:304px;text-align:right;">Assembled Quantity:</div>
<div class="t" style="top:681.80px;font-size:10px;color:#363636;left:1131px;">0</div>
<div class="t" style="top:702.30px;font-size:10px;color:#787878;right:304px;text-align:right;">Maximum Assemble Date:</div>
<div style="position:absolute;left:1313px;top:130px;width:1px;height:475px;background:#dcdcdc;"></div>
<div style="position:absolute;left:1312.2px;top:130px;width:2px;height:30px;background:#1f6fae;"></div>
<div class="t" style="top:142.97px;font-size:7.6px;color:#2a6aa6;left:1323.8px;">DETAILS</div>
<div class="t" style="top:172.68px;font-size:7.6px;color:#555;left:1323.8px;">HOLDS/OFF-FLOWS</div>
<div class="t" style="top:202.39px;font-size:7.6px;color:#555;left:1323.8px;">TIME CONSTRAINTS</div>
<div class="t" style="top:232.10px;font-size:7.6px;color:#555;left:1323.8px;">DEPENDENCIES</div>
<div class="t" style="top:261.81px;font-size:7.6px;color:#555;left:1323.8px;">FUTURE ACTIONS</div>
<div class="t" style="top:291.52px;font-size:7.6px;color:#555;left:1323.8px;">PROTOCOLS</div>
<div class="t" style="top:321.23px;font-size:7.6px;color:#555;left:1323.8px;">COSTING</div>
<div class="t" style="top:350.94px;font-size:7.6px;color:#555;left:1323.8px;">NOTIFICATIONS</div>
<div class="t" style="top:380.65px;font-size:7.6px;color:#555;left:1323.8px;">SCHEDULING</div>
<div class="t" style="top:410.36px;font-size:7.6px;color:#555;left:1323.8px;">MAPS</div>
<div class="t" style="top:440.07px;font-size:7.6px;color:#555;left:1323.8px;">COLLECTED DATA</div>
<div class="t" style="top:469.78px;font-size:7.6px;color:#555;left:1323.8px;">GENEALOGY</div>
<div class="t" style="top:499.49px;font-size:7.6px;color:#555;left:1323.8px;">ATTRIBUTES</div>
<div class="t" style="top:529.20px;font-size:7.6px;color:#555;left:1323.8px;">ATTACHMENTS</div>
<div class="t" style="top:558.91px;font-size:7.6px;color:#555;left:1323.8px;">WHERE USED</div>
<div class="t" style="top:588.62px;font-size:7.6px;color:#555;left:1323.8px;">HISTORY</div>
<div style="position:absolute;left:1423px;top:121px;width:6px;height:594px;background:#e3e3e3;"></div>
<div style="position:absolute;left:1423px;top:121px;width:6px;height:114px;background:#a3a3a3;border-radius:3px;"></div>
<div style="position:absolute;left:1015px;top:81px;width:139px;height:386px;background:#fff;box-shadow:0 0 0 1px rgba(0,0,0,0.06), 0 1px 4px rgba(0,0,0,0.35);"></div>
<div class="t" style="top:90.73px;font-size:9.6px;color:#8e8e8e;left:1024.3px;">Container</div>
<div class="t" style="top:115.70px;font-size:10px;color:#333;left:1045.3px;">Associate</div>
<svg style="position:absolute;left:1026px;top:114px" width="12" height="12" viewBox="0 0 12 12"><path d="M0.8 2.5 V10.7 H9.8 V2.5" fill="none" stroke="#1f6fae" stroke-width="1.6"/><path d="M5.3 0 V7" stroke="#1f6fae" stroke-width="1.5"/><path d="M2.8 4.6 L5.3 7.2 L7.8 4.6" fill="none" stroke="#1f6fae" stroke-width="1.5"/></svg>
<div style="position:absolute;left:1015px;top:134px;width:139px;height:1px;background:#ececec;"></div>
<div class="t" style="top:141.93px;font-size:9.6px;color:#8e8e8e;left:1024.3px;">Experiments</div>
<div class="t" style="top:167.20px;font-size:10px;color:#333;left:1045.3px;">Create Experiment</div>
<svg style="position:absolute;left:1026px;top:164.8px" width="12" height="12" viewBox="0 0 12 12"><path d="M4.3 0.8 H10 M5.8 0.8 V4.8 L1.5 10.5 H10.8 L7.8 4.8 V0.8" fill="none" stroke="#1f6fae" stroke-width="1.3"/><path d="M2.8 7 H9.5 L11.5 11.8 H0.5 Z" fill="#1f6fae"/><path d="M0 3.5 H5 M3.4 1.9 L5 3.5 L3.4 5.1" fill="none" stroke="#1f6fae" stroke-width="1"/></svg>
<div style="position:absolute;left:1015px;top:186px;width:139px;height:1px;background:#ececec;"></div>
<div class="t" style="top:193.33px;font-size:9.6px;color:#8e8e8e;left:1024.3px;">Material</div>
<div class="t" style="top:218.00px;font-size:10px;color:#333;left:1045.3px;">Expand</div>
<svg style="position:absolute;left:1026px;top:216.2px" width="13" height="12" viewBox="0 0 13 12"><path d="M5 4.8 L1.5 1.3 M8 4.8 L11.5 1.3 M5 7.2 L1.5 10.7 M8 7.2 L11.5 10.7" stroke="#1f6fae" stroke-width="1.1"/><path d="M0 0 H4.2 L0 4.2 Z M13 0 H8.8 L13 4.2 Z M0 12 H4.2 L0 7.8 Z M13 12 H8.8 L13 7.8 Z" fill="#1f6fae"/></svg>
<div class="t" style="top:247.90px;font-size:10px;color:#333;left:1045.3px;">Attach</div>
<svg style="position:absolute;left:1026px;top:245.8px" width="8" height="12" viewBox="0 0 8 12"><path d="M2.4 4 V9 A1.6 1.6 0 0 0 5.6 9 V2.8 A2.4 2.4 0 0 0 0.8 2.8 V8.8 A3.2 3.2 0 0 0 7.2 8.8 V4" fill="none" stroke="#3b7cc0" stroke-width="0.95"/></svg>
<svg style="position:absolute;left:1139px;top:246px" width="6" height="12" viewBox="0 0 6 12"><path d="M0.5 0.5 L5.5 6 L0.5 11.5" fill="none" stroke="#2f6aa6" stroke-width="1.2"/></svg>
<div class="t" style="top:278.10px;font-size:10px;color:#333;left:1045.3px;">Create Sub-Products</div>
<svg style="position:absolute;left:1026px;top:280.4px" width="13" height="6" viewBox="0 0 13 6"><path d="M5.5 0.5 L1.5 4.5 M7.5 0.5 L11.5 4.5" stroke="#1f6fae" stroke-width="1.2"/><path d="M0 5.8 V1.8 L4 5.8 Z M13 5.8 V1.8 L9 5.8 Z" fill="#1f6fae"/></svg>
<div class="t" style="top:307.50px;font-size:10px;color:#333;left:1045.3px;">Combine</div>
<svg style="position:absolute;left:1026px;top:305.5px" width="13" height="12" viewBox="0 0 13 12"><path d="M0.7 7.3 V3 H7.5 V0.8 L12 5 L7.5 9.2 V7.3 H6" fill="none" stroke="#1f6fae" stroke-width="1"/><path d="M0.8 9 L3.5 6 L6.2 9 H4.6 V11.8 H2.4 V9 Z" fill="#1f6fae" stroke="#fff" stroke-width="0.6"/></svg>
<div class="t" style="top:337.30px;font-size:10px;color:#333;left:1045.3px;">Compose</div>
<svg style="position:absolute;left:1026px;top:335.3px" width="13" height="12" viewBox="0 0 13 12"><path d="M0 8 V3 H7 V0 L12.3 4.6 L7 9.2 V7 H4 Z" fill="#1f6fae"/><path d="M0.8 8.5 L3.5 5.5 L6.2 8.5 H4.6 V11.6 H2.4 V8.5 Z" fill="#1f6fae" stroke="#fff" stroke-width="0.8"/></svg>
<div class="t" style="top:367.30px;font-size:10px;color:#333;left:1045.3px;">Evaluate Service</div>
<svg style="position:absolute;left:1026px;top:365.8px" width="13" height="12" viewBox="0 0 13 12"><path d="M3.2 0.5 L0.8 5.5 L3.2 10.5 M9.4 0.5 L11.8 5.5 L9.4 10.5" fill="none" stroke="#1f6fae" stroke-width="1.1"/><path d="M6.3 3.4 L8.4 5.5 L6.3 7.6 L4.2 5.5 Z" fill="#1f6fae"/></svg>
<div style="position:absolute;left:1015px;top:386px;width:139px;height:1px;background:#ececec;"></div>
<div class="t" style="top:393.93px;font-size:9.6px;color:#8e8e8e;left:1024.3px;">Scheduling</div>
<div style="position:absolute;left:1015px;top:407px;width:139px;height:30px;background:#c8dff1;"></div>
<div class="t" style="top:418.10px;font-size:10px;color:#333;left:1045.3px;">Create Ad-hoc Job</div>
<svg style="position:absolute;left:1026px;top:417px" width="13" height="11" viewBox="0 0 13 11"><rect x="0.5" y="0.5" width="5.5" height="2.2" fill="none" stroke="#1f6fae" stroke-width="0.9"/><rect x="3.3" y="3.9" width="5.5" height="2.2" fill="none" stroke="#1f6fae" stroke-width="0.9"/><rect x="6.3" y="7.3" width="6.3" height="2.8" fill="#1f6fae"/><path d="M2.5 2.7 V3.9 M6 6.1 V7.3" stroke="#1f6fae" stroke-width="0.8"/></svg>
<div class="t" style="top:449.41px;font-size:8.4px;color:#2d6ea8;left:1015.70px;width:139px;text-align:center;">SHOW INACTIVE ACTIONS</div>
</body></html>
